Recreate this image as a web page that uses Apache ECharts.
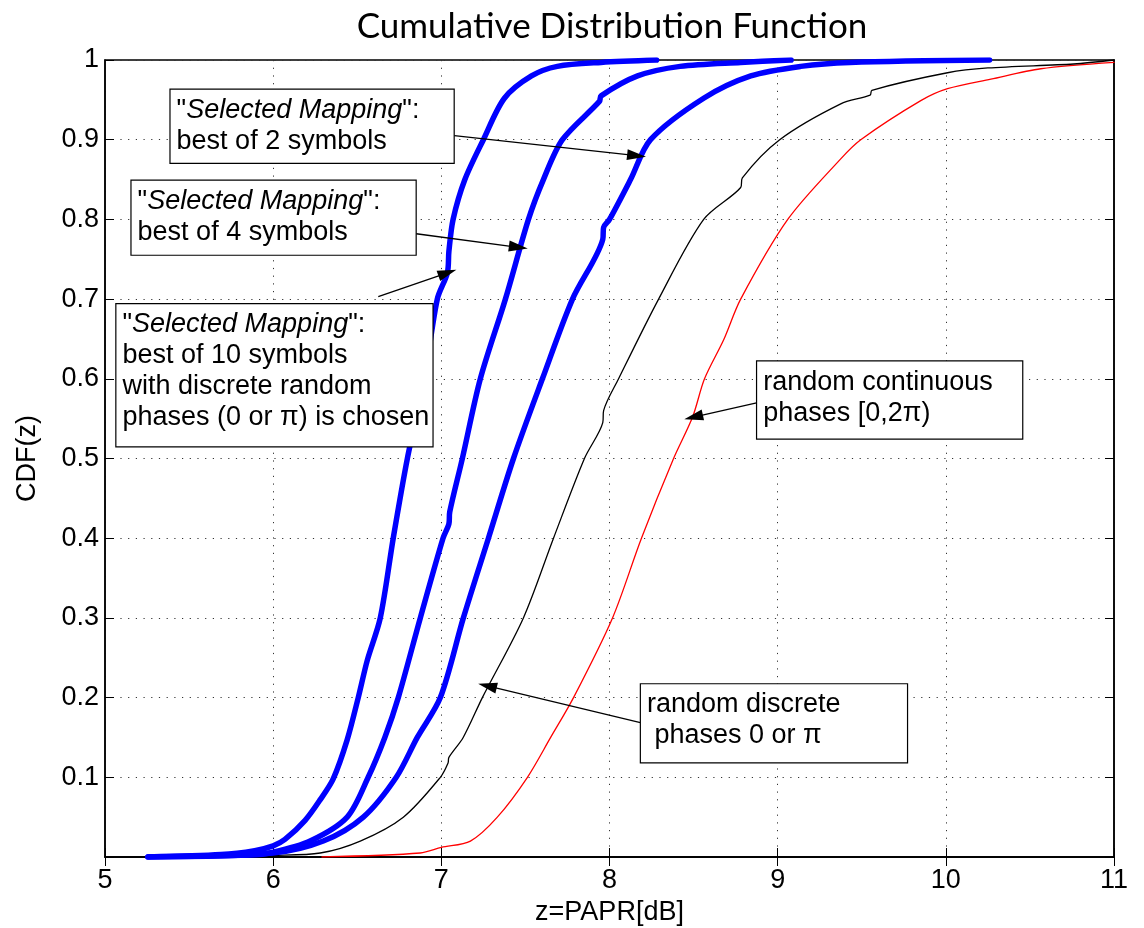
<!DOCTYPE html>
<html>
<head>
<meta charset="utf-8">
<title>Cumulative Distribution Function</title>
<script src="https://cdn.jsdelivr.net/npm/echarts@6/dist/echarts.min.js"></script>
<style>
    html, body { margin: 0; padding: 0; background: #fff; }
    #cdf_chart { width: 1144px; height: 928px; }
</style>
</head>
<body>
<div id="cdf_chart"></div>
<script>

// Chart data
// ------------------------------

// Tick values
var xTicks = [5, 6, 7, 8, 9, 10, 11];
var yTicks = [0, 0.1, 0.2, 0.3, 0.4, 0.5, 0.6, 0.7, 0.8, 0.9, 1];

// "Selected Mapping", best of 10 symbols  [z, CDF]
var best10 = [
    [5.256, 0], [5.69, 0.003], [5.89, 0.008], [6.0, 0.014], [6.07, 0.022], [6.19, 0.046],
    [6.28, 0.072], [6.357, 0.098], [6.44, 0.147], [6.506, 0.2], [6.56, 0.247], [6.637, 0.3],
    [6.714, 0.4], [6.798, 0.5], [6.899, 0.6], [6.976, 0.7], [7.036, 0.733], [7.045, 0.76],
    [7.07, 0.8], [7.14, 0.85], [7.25, 0.9], [7.375, 0.952], [7.536, 0.98], [7.69, 0.992],
    [7.95, 0.997], [8.28, 1]
];

// "Selected Mapping", best of 4 symbols
var best4 = [
    [5.256, 0], [5.86, 0.0025], [6.0, 0.006], [6.22, 0.02], [6.44, 0.05], [6.565, 0.1],
    [6.664, 0.15], [6.744, 0.2], [6.875, 0.3], [7.01, 0.4], [7.045, 0.418], [7.05, 0.433],
    [7.125, 0.5], [7.232, 0.6], [7.381, 0.7], [7.518, 0.8], [7.607, 0.85], [7.72, 0.9],
    [7.94, 0.948], [7.95, 0.955], [8.167, 0.98], [8.42, 0.992], [8.78, 0.997], [9.08, 1]
];

// "Selected Mapping", best of 2 symbols
var best2 = [
    [5.256, 0], [6.0, 0.005], [6.298, 0.02], [6.536, 0.05], [6.732, 0.1], [6.857, 0.15],
    [6.994, 0.2], [7.131, 0.3], [7.28, 0.4], [7.429, 0.5], [7.601, 0.6], [7.78, 0.7],
    [7.96, 0.775], [7.965, 0.79], [8.0, 0.8], [8.125, 0.85], [8.244, 0.9], [8.56, 0.952],
    [8.84, 0.98], [9.137, 0.992], [9.43, 0.997], [10.26, 1]
];

// Random discrete phases 0 or pi
var discrete = [
    [5.55, 0], [6.0, 0.002], [6.28, 0.005], [6.518, 0.02], [6.774, 0.05], [6.994, 0.1],
    [7.04, 0.118], [7.045, 0.125], [7.13, 0.15], [7.244, 0.2], [7.488, 0.3], [7.667, 0.4],
    [7.851, 0.5], [7.96, 0.545], [7.965, 0.56], [8.054, 0.6], [8.292, 0.7], [8.56, 0.8],
    [8.78, 0.84], [8.79, 0.852], [9.012, 0.9], [9.375, 0.945], [9.55, 0.956], [9.56, 0.962],
    [10.01, 0.984], [10.25, 0.99], [10.76, 0.995], [11, 1]
];

// Random continuous phases [0, 2pi)
var continuous = [
    [6.29, 0], [6.875, 0.005], [7.0, 0.012], [7.173, 0.02], [7.333, 0.05], [7.512, 0.1],
    [7.65, 0.15], [7.786, 0.2], [8.018, 0.3], [8.19, 0.4], [8.381, 0.5], [8.494, 0.552],
    [8.565, 0.6], [8.679, 0.649], [8.78, 0.7], [9.06, 0.8], [9.375, 0.876], [9.494, 0.9],
    [9.851, 0.949], [10.01, 0.964], [10.268, 0.976], [10.565, 0.989], [11, 0.997]
];

// Annotation texts
var noteTexts = [
    '"{i|Selected Mapping}":\nbest of 2 symbols',
    '"{i|Selected Mapping}":\nbest of 4 symbols',
    '"{i|Selected Mapping}":\nbest of 10 symbols\nwith discrete random\nphases (0 or \u03c0) is chosen',
    'random continuous\nphases [0,2\u03c0)',
    'random discrete\n phases 0 or \u03c0'
];


// Annotation layout (box top-left in axis units, box size in px, arrow from/to)
// ------------------------------

var noteBoxes = [
    { at: [5.393, 0.962], w: 283, h: 73 },
    { at: [5.161, 0.848], w: 284, h: 74 },
    { at: [5.071, 0.693], w: 316, h: 142 },
    { at: [8.881, 0.621], w: 265, h: 77 },
    { at: [8.19, 0.216], w: 266, h: 78 }
];

var noteArrows = [
    [[7.077, 0.905], [8.161, 0.88]],
    [[6.851, 0.782], [7.458, 0.765]],
    [[6.625, 0.703], [7.036, 0.733]],
    [[8.881, 0.57], [8.5, 0.552]],
    [[8.196, 0.168], [7.274, 0.2146]]
];


// Setup chart
// ------------------------------

var FONT = '"Liberation Sans", Arial, sans-serif';

var cdf_element = document.getElementById('cdf_chart');
var cdf_chart = echarts.init(cdf_element, null, { renderer: 'canvas' });

var curveSeries = function(name, data, color, width) {
    return {
        name: name,
        type: 'line',
        data: data,
        showSymbol: false,
        smooth: 0.3,
        silent: true,
        animation: false,
        lineStyle: { color: color, width: width, join: 'round', cap: 'round' }
    };
};

var gridLine = {
    show: true,
    lineStyle: { color: '#333', width: 1, type: [1.2, 6.5] }
};

var boxTick = { show: true, inside: true, length: 9, lineStyle: { color: '#000', width: 1 } };

cdf_chart.setOption({
    animation: false,
    backgroundColor: '#fff',

    title: {
        text: 'Cumulative Distribution Function',
        left: 607,
        top: 4,
        textAlign: 'center',
        textStyle: {
            fontFamily: 'Lato, "Open Sans", sans-serif',
            fontWeight: 'normal',
            fontSize: 35,
            color: '#000'
        }
    },

    grid: {
        left: 105,
        right: 30,
        top: 60,
        bottom: 71,
        outerBoundsMode: 'none',
        show: true,
        borderColor: '#000',
        borderWidth: 1.5
    },

    xAxis: [{
        type: 'value',
        min: xTicks[0],
        max: xTicks[xTicks.length - 1],
        interval: 1,
        name: 'z=PAPR[dB]',
        nameLocation: 'middle',
        nameGap: 42,
        nameTextStyle: { fontFamily: FONT, fontSize: 27, color: '#000' },
        axisLine: { show: true, lineStyle: { color: '#000', width: 1.5 } },
        axisTick: boxTick,
        axisLabel: { fontFamily: FONT, fontSize: 27, color: '#000', margin: 10 },
        splitLine: gridLine
    }, {
        type: 'value',
        position: 'top',
        min: xTicks[0],
        max: xTicks[xTicks.length - 1],
        interval: 1,
        axisLine: { show: true, lineStyle: { color: '#000', width: 1.5 } },
        axisTick: boxTick,
        axisLabel: { show: false },
        splitLine: { show: false }
    }],

    yAxis: [{
        type: 'value',
        min: yTicks[0],
        max: yTicks[yTicks.length - 1],
        interval: 0.1,
        name: 'CDF(z)',
        nameLocation: 'middle',
        nameGap: 64,
        nameTextStyle: { fontFamily: FONT, fontSize: 27, color: '#000' },
        axisLine: { show: true, lineStyle: { color: '#000', width: 1.5 } },
        axisTick: boxTick,
        axisLabel: {
            fontFamily: FONT,
            fontSize: 27,
            color: '#000',
            margin: 6,
            formatter: function(v) { return v === 0 ? '' : String(+v.toFixed(1)); }
        },
        splitLine: gridLine
    }, {
        type: 'value',
        position: 'right',
        min: yTicks[0],
        max: yTicks[yTicks.length - 1],
        interval: 0.1,
        axisLine: { show: true, lineStyle: { color: '#000', width: 1.5 } },
        axisTick: boxTick,
        axisLabel: { show: false },
        splitLine: { show: false }
    }],

    series: [
        curveSeries('random continuous phases', continuous, '#ff0000', 1.3),
        curveSeries('random discrete phases', discrete, '#000000', 1.3),
        curveSeries('best of 2 symbols', best2, '#0000ff', 5.5),
        curveSeries('best of 4 symbols', best4, '#0000ff', 5.5),
        curveSeries('best of 10 symbols', best10, '#0000ff', 5.5),

        // Annotation boxes and arrows
        {
            name: 'notes',
            type: 'scatter',
            data: [],
            z: 10,
            silent: true,
            animation: false,
            markLine: {
                silent: true,
                animation: false,
                symbol: ['none', 'triangle'],
                symbolSize: [11, 19],
                label: { show: false },
                lineStyle: { color: '#000', width: 1.3, type: 'solid' },
                itemStyle: { color: '#000' },
                emphasis: { disabled: true },
                data: noteArrows.map(function(a) {
                    return [{ coord: a[0] }, { coord: a[1] }];
                })
            },
            markPoint: {
                silent: true,
                animation: false,
                symbol: 'rect',
                symbolSize: 1,
                itemStyle: { color: 'rgba(0,0,0,0)' },
                emphasis: { disabled: true },
                data: noteBoxes.map(function(b, i) {
                    return {
                        coord: b.at,
                        label: {
                            show: true,
                            position: [0, 0],
                            formatter: noteTexts[i],
                            backgroundColor: '#fff',
                            borderColor: '#000',
                            borderWidth: 1.2,
                            padding: [5, 5, 3, 6],
                            width: b.w - 11,
                            height: b.h - 8,
                            fontFamily: FONT,
                            fontSize: 27,
                            lineHeight: 31,
                            color: '#000',
                            rich: {
                                i: { fontFamily: FONT, fontSize: 27, lineHeight: 31, fontStyle: 'italic', color: '#000' }
                            }
                        }
                    };
                })
            }
        }
    ]
});

window.addEventListener('resize', function() {
    cdf_chart.resize();
});
</script>
</body>
</html>
